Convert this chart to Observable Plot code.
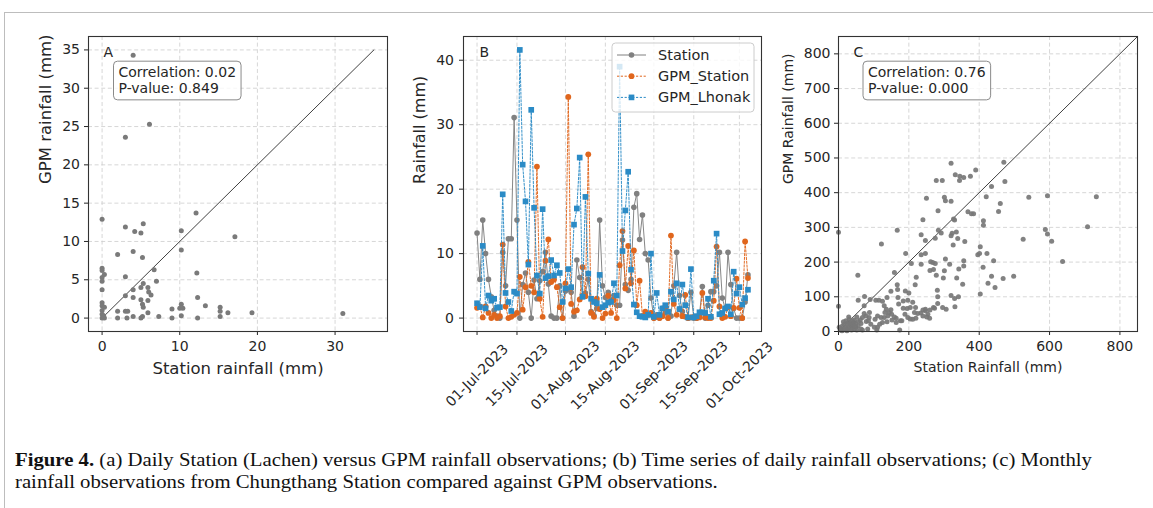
<!DOCTYPE html>
<html>
<head>
<meta charset="utf-8">
<script src="https://cdn.jsdelivr.net/npm/d3@7"></script>
<script src="https://cdn.jsdelivr.net/npm/@observablehq/plot@0.6"></script>
<style>
  html, body { margin: 0; padding: 0; background: #fff; }
  #root { position: relative; width: 1153px; height: 508px; overflow: hidden; font-family: "DejaVu Sans", sans-serif; }
  .panel { position: absolute; top: 0; }
  #frameTop { position: absolute; left: 4px; top: 12px; width: 1149px; height: 0; border-top: 1px solid #bdbdbd; }
  #frameLeft { position: absolute; left: 4px; top: 12px; width: 0; height: 496px; border-left: 1px solid #bdbdbd; }
  #caption { position: absolute; left: 15px; top: 449px; font-family: "Liberation Serif", serif; font-size: 19.5px; line-height: 22px; color: #111; }
  #caption div { white-space: nowrap; transform-origin: 0 0; }
</style>
</head>
<body>
<div id="root">
  <div id="frameTop"></div>
  <div id="frameLeft"></div>
  <div class="panel" id="pA" style="left:0px"></div>
  <div class="panel" id="pB" style="left:400px"></div>
  <div class="panel" id="pC" style="left:780px"></div>
  <div id="caption">
    <div id="cap1"><b>Figure 4.</b> (a) Daily Station (Lachen) versus GPM rainfall observations; (b) Time series of daily rainfall observations; (c) Monthly</div>
    <div id="cap2">rainfall observations from Chungthang Station compared against GPM observations.</div>
  </div>
</div>
<script>
// ---------------- DATA ----------------
// Panel A: daily station vs GPM (mm)
const aStation = [0,4.0,6.1,3.0,12.1,3.0,5.3,4.2,5.0,10.2,17.1,10.2,2.0,4.0,5.2,6.7,0,0,0.3,0,0,3.0,12.2,7.0,5.3,5.0,4.0,5.9,6.0,6.3,0,3.0,4.0,5.0,5.2,5.9,12.3,0,0,0.3,0,5.3,10.2,10.0,10.4,9.0,13.3,15.2,15.2,16.2,19.3,31.0,2.0,3.0,3.3,5.9,0,0,0.3,2.0,3.2,4.0,5.0,5.2,7.3,9.0,10.2,12.3,15.2,0.2];
const aGpm     = [12.9,34.3,25.3,23.6,13.7,11.9,12.3,11.3,11.1,11.4,10.6,8.9,8.3,8.7,7.9,6.3,6.5,6.2,5.7,5.3,4.8,5.4,5.9,4.8,4.5,4.0,3.7,4.0,3.4,3.0,3.7,2.9,2.7,2.4,1.8,2.3,2.7,2.0,1.6,1.4,1.0,1.4,1.8,1.3,1.3,1.2,1.6,1.4,0.9,0.7,0.7,0.6,0.9,0.9,0.9,0.7,0.5,0,0,0,0,0.2,0,0.2,0.2,0,0.3,0,0.2,0.3];
const aLine = [0, 35];
const aXTicks = [0, 10, 20, 30];
const aYTicks = [0, 5, 10, 15, 20, 25, 30, 35];
const aStats = "Correlation: 0.02\nP-value: 0.849";

// Panel B: daily time series (mm), starting 2023-07-01
const bStart = "2023-07-01";
const seriesNames = ["Station", "GPM_Station", "GPM_Lhonak"];
const bStation = [13.2,6.0,15.2,10.0,6.0,3.3,1.2,0.3,0.0,10.2, 5.0,12.3,12.3,31.1,15.2,0.0,5.2,7.0,4.0,0.0, 5.9,3.0,5.8,7.2,10.2,5.3,0.3,0.0,0.0,5.0, 0.0,4.2,4.5,4.0,0.3,9.0,6.3,3.5,3.9,6.0, 1.0,0.4,1.5,15.2,5.0,3.2,4.0,2.8,3.5,2.0, 2.0,12.1,5.2,4.3,6.0,17.2,19.3,12.2,16.0,10.0, 9.0,3.1,0.0,0.5,0.0,1.5,0.8,0.0,0.3,5.0, 10.2,3.5,1.0,0.2,0.0,4.0,0.0,0.0,0.5,4.9, 0.0,2.0,4.1,4.1,5.0,10.2,3.1,1.5,10.2,5.2, 1.5,0.0,0.0,0.0,2.5,6.7];
const bGpmStation = [1.6,1.8,0.1,1.8,0.8,0.0,0.5,0.0,0.3,11.4, 1.8,0.0,0.2,0.5,0.8,6.4,1.3,4.8,8.7,5.0, 4.0,23.5,3.0,0.2,8.9,12.2,5.6,6.0,4.8,1.7, 0.0,5.4,34.3,2.2,1.0,1.2,2.9,7.9,3.4,25.4, 0.8,0.2,3.0,1.4,0.0,0.7,3.5,0.8,2.8,0.0, 8.2,13.5,4.6,11.2,5.4,10.5,2.0,5.8,0.3,1.0, 0.5,0.8,0.0,0.2,0.0,0.3,1.6,0.0,12.8,2.2, 0.5,1.4,0.3,3.6,0.0,0.1,0.2,0.0,0.1,3.9, 0.1,0.0,0.0,2.7,11.1,1.8,0.0,0.2,1.7,0.3, 1.6,6.1,1.6,0.0,11.9,6.2];
const bGpmLhonak = [2.3,1.7,11.2,1.5,3.5,2.7,3.0,1.6,1.7,19.2, 3.9,2.5,1.1,4.1,3.8,41.6,23.8,18.1,8.3,32.3, 17.1,6.6,3.8,16.9,6.2,6.5,9.0,6.6,8.2,7.0, 2.5,4.6,7.6,4.8,14.5,17.0,24.9,3.3,18.8,6.9, 3.0,2.5,2.3,6.7,1.7,2.0,2.4,2.5,5.4,3.5, 39.0,10.4,16.7,22.7,7.5,2.1,0.9,0.3,0.2,0.1, 0.5,10.0,0.2,3.9,0.5,1.5,2.0,1.0,4.1,2.9, 5.4,1.4,5.2,2.0,0.1,7.6,0.1,0.3,0.9,0.9, 0.8,3.0,0.2,5.8,13.1,0.6,0.8,1.5,1.8,0.6, 7.2,3.8,4.8,2.1,3.1,4.4];
const bXTicks = ["2023-07-01","2023-07-15","2023-08-01","2023-08-15","2023-09-01","2023-09-15","2023-10-01"];
const bYTicks = [0, 10, 20, 30, 40];

// Panel C: monthly station vs GPM (mm)
const cStation = [0,0,55,122,167,159,167,56,74,90,115,138,149,168,169,190,184,200,191,207,221,218,235,235,247,250,240,247,235,278,295,283,284,292,262,275,275,270,260,278,301,304,320,320,332,345,356,375,344,390,470,473,541,594,733,708,525,588,594,606,637,420,435,460,455,412,412,368,378,384,339,359,327,330,335,323,320,326,304,301,298,316,336,342,356,356,353,396,401,403,411,422,425,435,441,445,468,498,403,320,330,331,341,306,296,282,281,270,268,247,247,240,234,225,251,216,204,195,189,184,176,174,180,164,151,144,136,130,125,111,109,104,87,88,79,68,64,56,29,45,35,2,7,11,16,21,26,30,35,40,45,49,52,37,24,13,5,10,64,68,83,28,21,14,33,43,49,56,62,52,39,42,47,31,25,18,121,132,138,152,159,164,171,197,211,204,219,197,211,220,240,254,260,259,273,282,102,92,78,73,117,85,111,130,140,149,125,106,73];
const cGpm     = [286,73,162,252,292,170,135,90,101,92,90,98,116,121,98,117,88,111,225,196,156,135,194,221,225,384,322,262,279,435,435,348,292,284,201,196,269,179,176,162,387,377,375,485,452,447,444,447,435,465,488,432,387,391,388,302,266,294,281,260,202,388,418,369,346,319,306,345,339,339,268,259,324,321,287,283,276,249,209,175,154,194,154,180,204,189,136,221,225,244,185,225,139,159,204,127,153,159,108,104,95,71,100,64,69,100,119,69,199,64,60,62,53,52,42,55,36,66,50,67,31,4,31,38,50,55,64,40,26,12,4,35,40,55,29,40,23,16,42,33,24,12,9,16,21,12,7,13,10,16,7,12,4,4,2,4,4,2,7,4,7,26,31,28,21,26,23,29,33,42,31,21,16,35,21,7,40,55,28,33,42,26,79,90,84,69,69,40,35,38,45,50,62,38,67,81,12,21,45,52,21,31,45,74,45,63,87,90,74];
const cLine = [0, 850];
const cDomain = [0, 850];
const cXTicks = [0, 200, 400, 600, 800];
const cYTicks = [0, 100, 200, 300, 400, 500, 600, 700, 800];
const cStats = "Correlation: 0.76\nP-value: 0.000";

// ---------------- STYLE ----------------
const FONT = "'DejaVu Sans', sans-serif";
const INK = "#262626";
const GRID = {stroke: "#cdcdcd", strokeOpacity: 1, strokeWidth: 0.8, strokeDasharray: "4,2.6"};
const seriesStyle = {
  "Station":     {color: "#808080", dash: null,      symbol: "circle", r: 2.8, width: 1.0},
  "GPM_Station": {color: "#e0661d", dash: "2.2,1.6", symbol: "circle", r: 2.9, width: 1.0},
  "GPM_Lhonak":  {color: "#2b8bc6", dash: "2.2,1.6", symbol: "square", r: 3.2, width: 1.0}
};
const padExtent = (vals) => { const [lo, hi] = d3.extent(vals); const p = (hi - lo) * 0.05; return [lo - p, hi + p]; };

function boxAround(svg, prefix, pad) {
  const t = d3.select(svg).selectAll("text").filter(function () { return this.textContent.startsWith(prefix); }).node();
  if (!t) return;
  const bb = t.getBBox();
  const r = document.createElementNS("http://www.w3.org/2000/svg", "rect");
  r.setAttribute("x", bb.x - pad[3]);
  r.setAttribute("y", bb.y - pad[0]);
  r.setAttribute("width", bb.width + pad[1] + pad[3]);
  r.setAttribute("height", bb.height + pad[0] + pad[2]);
  r.setAttribute("rx", 4);
  r.setAttribute("fill", "#fff");
  r.setAttribute("fill-opacity", 0.8);
  r.setAttribute("stroke", "#8a8a8a");
  r.setAttribute("stroke-width", 1);
  if (t.getAttribute("transform")) r.setAttribute("transform", t.getAttribute("transform"));
  t.parentNode.insertBefore(r, t);
}

// ---------------- PANEL A ----------------
const aPts = aStation.map((x, i) => ({x, y: aGpm[i]}));
const aDom = padExtent([...aStation, ...aGpm, ...aLine]);
const plotA = Plot.plot({
  width: 400, height: 420,
  marginLeft: 88, marginRight: 13, marginTop: 36, marginBottom: 89,
  style: {fontFamily: FONT, fontSize: "14px", color: INK, background: "transparent", overflow: "visible"},
  x: {domain: aDom}, y: {domain: aDom},
  marks: [
    Plot.gridX(aXTicks, GRID),
    Plot.gridY(aYTicks, GRID),
    Plot.line(aLine, {x: d => d, y: d => d, stroke: "#2a2a2a", strokeWidth: 0.9}),
    Plot.dot(aPts, {x: "x", y: "y", r: 2.5, fill: "#7a7a7a", stroke: null}),
    Plot.axisX(aXTicks, {tickSize: 4, tickPadding: 6, fontSize: 14, label: null, color: INK}),
    Plot.axisY(aYTicks, {tickSize: 4, tickPadding: 4.5, fontSize: 14, label: null, color: INK}),
    Plot.frame({stroke: "#333", strokeWidth: 1.1}),
    Plot.text(["A"], {text: d => d, frameAnchor: "top-left", dx: 15, dy: 16, fontSize: 14, textAnchor: "start", lineAnchor: "middle", fill: INK}),
    Plot.text([aStats], {text: d => d, frameAnchor: "top-left", dx: 30, dy: 43.5, fontSize: 14, textAnchor: "start", lineAnchor: "middle", lineHeight: 1.12, fill: INK}),
    Plot.text(["Station rainfall (mm)"], {text: d => d, frameAnchor: "bottom", dy: 37, fontSize: 16.5, lineAnchor: "middle", fill: INK}),
    Plot.text(["GPM rainfall (mm)"], {text: d => d, frameAnchor: "left", dx: -43, rotate: -90, fontSize: 16.5, lineAnchor: "middle", fill: INK})
  ]
});
document.getElementById("pA").appendChild(plotA);
boxAround(plotA, "Correlation", [3, 5, 4, 5]);

// ---------------- PANEL B ----------------
const t0 = new Date(bStart + "T00:00:00Z");
const bDates = bStation.map((_, i) => d3.utcDay.offset(t0, i));
const bValues = {"Station": bStation, "GPM_Station": bGpmStation, "GPM_Lhonak": bGpmLhonak};
const bRows = seriesNames.map(name => bValues[name].map((v, i) => ({date: bDates[i], value: v, series: name})));
const bXDom = padExtent(bDates.map(d => +d)).map(v => new Date(v));
const bYDom = padExtent([0, ...bStation, ...bGpmStation, ...bGpmLhonak]);
const tickDates = bXTicks.map(s => new Date(s + "T00:00:00Z"));
const fmtDate = d3.utcFormat("%d-%b-%Y");

const bMarks = [
  Plot.gridX(tickDates, GRID),
  Plot.gridY(bYTicks, GRID)
];
bRows.forEach(rows => {
  const st = seriesStyle[rows[0].series];
  bMarks.push(Plot.line(rows, {x: "date", y: "value", stroke: st.color, strokeWidth: st.width, strokeDasharray: st.dash, strokeOpacity: 0.95}));
  bMarks.push(Plot.dot(rows, {x: "date", y: "value", fill: st.color, stroke: null, symbol: st.symbol, r: st.r}));
});
bMarks.push(
  Plot.axisX(tickDates, {tickSize: 4, tickFormat: () => "", label: null, color: INK}),
  Plot.text(tickDates, {x: d => d, text: d => fmtDate(d), frameAnchor: "bottom", dy: 44, rotate: -45, textAnchor: "middle", lineAnchor: "middle", fontSize: 14, fill: INK}),
  Plot.axisY(bYTicks, {tickSize: 4, tickPadding: 5.5, fontSize: 14, label: null, color: INK}),
  Plot.frame({stroke: "#333", strokeWidth: 1.1}),
  Plot.text(["B"], {text: d => d, frameAnchor: "top-left", dx: 16, dy: 16, fontSize: 14, textAnchor: "start", lineAnchor: "middle", fill: INK}),
  Plot.text(["Rainfall (mm)"], {text: d => d, frameAnchor: "left", dx: -44, rotate: -90, fontSize: 16, lineAnchor: "middle", fill: INK})
);
const plotB = Plot.plot({
  width: 380, height: 420,
  marginLeft: 63, marginRight: 19, marginTop: 36, marginBottom: 89,
  style: {fontFamily: FONT, fontSize: "14px", color: INK, background: "transparent", overflow: "visible"},
  x: {type: "utc", domain: bXDom},
  y: {domain: bYDom},
  marks: bMarks
});
document.getElementById("pB").appendChild(plotB);

// legend for panel B (drawn inside the SVG, top-right of frame)
(function legend() {
  const svg = d3.select(plotB);
  const frameRight = 380 - 19, frameTop = 36;
  const boxW = 142, boxH = 69;
  const bx = frameRight - 7 - boxW, by = frameTop + 7;
  const g = svg.append("g").attr("font-family", FONT).attr("font-size", 14.5).attr("text-anchor", "start");
  g.append("rect").attr("x", bx).attr("y", by).attr("width", boxW).attr("height", boxH)
    .attr("rx", 3.5).attr("fill", "#fff").attr("fill-opacity", 0.8).attr("stroke", "#cccccc").attr("stroke-width", 1);
  seriesNames.forEach((name, i) => {
    const st = seriesStyle[name];
    const cy = by + 12 + i * 21.2;
    g.append("line").attr("x1", bx + 5).attr("x2", bx + 34).attr("y1", cy).attr("y2", cy)
      .attr("fill", "none").attr("stroke", st.color).attr("stroke-width", st.width).attr("stroke-dasharray", st.dash);
    const sym = st.symbol === "square" ? d3.symbolSquare : d3.symbolCircle;
    g.append("path").attr("d", d3.symbol(sym, Math.PI * st.r * st.r)()).attr("transform", `translate(${bx + 19.5},${cy})`)
      .attr("fill", st.color).attr("stroke", "none");
    g.append("text").attr("x", bx + 46).attr("y", cy).attr("dy", "0.35em").attr("text-anchor", "start").attr("fill", INK).text(name);
  });
})();

// ---------------- PANEL C ----------------
const cPts = cStation.map((x, i) => ({x, y: cGpm[i]}));
const plotC = Plot.plot({
  width: 373, height: 420,
  marginLeft: 58, marginRight: 16, marginTop: 36, marginBottom: 89,
  style: {fontFamily: FONT, fontSize: "14px", color: INK, background: "transparent", overflow: "visible"},
  x: {domain: cDomain}, y: {domain: cDomain},
  marks: [
    Plot.gridX(cXTicks, GRID),
    Plot.gridY(cYTicks, GRID),
    Plot.line(cLine, {x: d => d, y: d => d, stroke: "#2a2a2a", strokeWidth: 0.9}),
    Plot.dot(cPts, {x: "x", y: "y", r: 2.5, fill: "#777", fillOpacity: 0.92, stroke: null}),
    Plot.axisX(cXTicks, {tickSize: 4, tickPadding: 6, fontSize: 14, label: null, color: INK}),
    Plot.axisY(cYTicks, {tickSize: 4, tickPadding: 4, fontSize: 14, label: null, color: INK}),
    Plot.frame({stroke: "#333", strokeWidth: 1.1}),
    Plot.text(["C"], {text: d => d, frameAnchor: "top-left", dx: 15, dy: 16, fontSize: 14, textAnchor: "start", lineAnchor: "middle", fill: INK}),
    Plot.text([cStats], {text: d => d, frameAnchor: "top-left", dx: 29.5, dy: 43.5, fontSize: 14, textAnchor: "start", lineAnchor: "middle", lineHeight: 1.12, fill: INK}),
    Plot.text(["Station Rainfall (mm)"], {text: d => d, frameAnchor: "bottom", dy: 36, fontSize: 14, lineAnchor: "middle", fill: INK}),
    Plot.text(["GPM Rainfall (mm)"], {text: d => d, frameAnchor: "left", dx: -50, rotate: -90, fontSize: 14, lineAnchor: "middle", fill: INK})
  ]
});
document.getElementById("pC").appendChild(plotC);
boxAround(plotC, "Correlation", [3, 5, 4, 5]);

// ---------------- CAPTION fit ----------------
(function fitCaption() {
  const c1 = document.getElementById("cap1"), c2 = document.getElementById("cap2");
  const w = c1.getBoundingClientRect().width;
  const s = 1077 / w;
  c1.style.transform = `scaleX(${s})`;
  c2.style.transform = `scaleX(${s})`;
})();
</script>
</body>
</html>
